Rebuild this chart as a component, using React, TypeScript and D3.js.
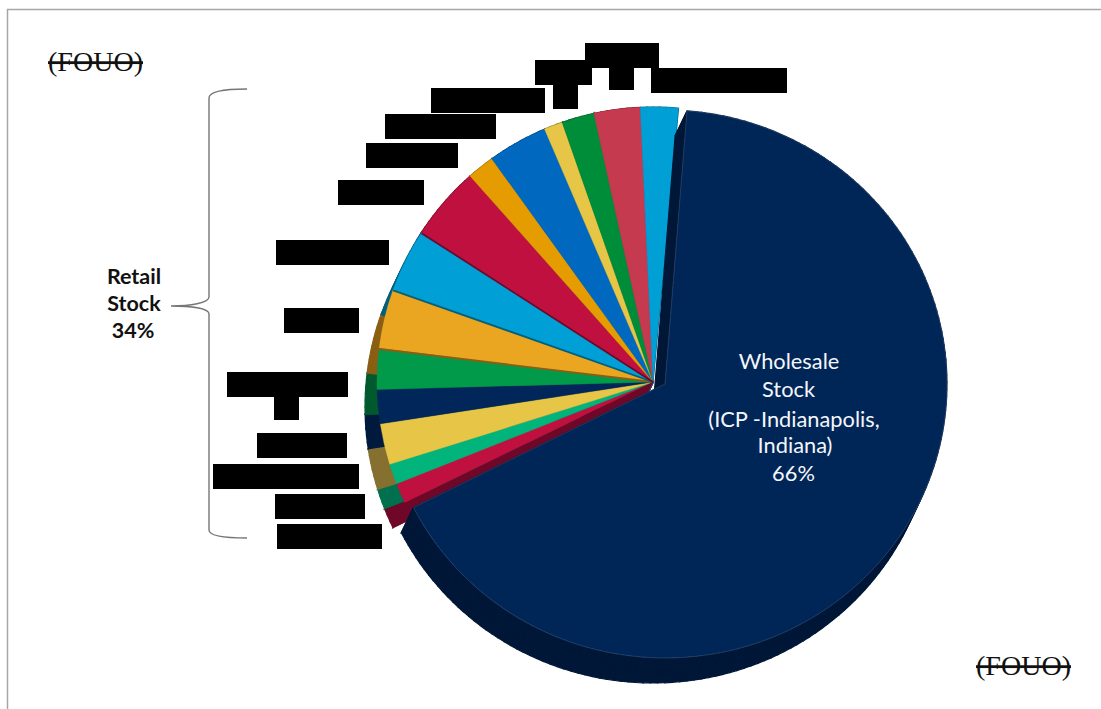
import React from "react";
import * as d3 from "d3";

// Share of total stock, clockwise from the wholesale slice.
const sliceNames = ["Wholesale", "Retail 1", "Retail 2", "Retail 3", "Retail 4", "Retail 5", "Retail 6", "Retail 7", "Retail 8", "Retail 9", "Retail 10", "Retail 11", "Retail 12", "Retail 13", "Retail 14"];
const sliceValues = [66.3, 1.2, 1.2, 2.4, 2.0, 2.4, 3.5, 3.7, 4.3, 1.6, 3.5, 1.1, 1.9, 2.7, 2.2];
const topColors = ["#002658", "#c0103f", "#00b47c", "#e6c547", "#00265a", "#009a4a", "#eaa521", "#009fd6", "#c0103f", "#e59c00", "#0069bf", "#e6c547", "#008d3a", "#c53a4e", "#009fd6"];
const wallColors = ["#001738", "#6f0828", "#00704f", "#857030", "#001a3e", "#005a2e", "#8a5f14", "#00607f", "#6f0828", "#8a5f00", "#003f73", "#857030", "#005523", "#77222f", "#00607f"];
const stripedSlices = ["Retail 6", "Retail 7", "Retail 8"];

const wholesaleLines = ["Wholesale", "Stock", "(ICP -Indianapolis,", "Indiana)", "66%"];
const retailLines = ["Retail", "Stock", "34%"];
const markings = ["(FOUO)", "(FOUO)"];

// Blacked-out slice captions: x, y, width, height.
const redactions: [number, number, number, number][] = [
  [585, 43, 74, 25], [535, 60, 57, 25], [553, 85, 25, 24], [609, 68, 25, 22], [651, 68, 136, 25],
  [431, 88, 114, 25], [385, 114, 111, 25], [366, 143, 92, 25], [338, 180, 86, 25], [276, 240, 113, 25],
  [284, 308, 75, 25], [227, 372, 121, 25], [274, 397, 25, 23], [257, 433, 90, 25], [213, 464, 146, 25],
  [275, 494, 90, 25], [277, 524, 105, 25],
];

const W = 1101;
const H = 709;
const WALL = { x: -12, y: 25 };
const FAN = { cx: 653, cy: 382, rx: 276, ry: 275 };
const EXPLODED = { cx: 665, cy: 384, rx: 282, ry: 274 };
const deg = Math.PI / 180;
const FAN_TURN = 0.8 * deg;

type Geo = typeof FAN;

const outerPoint = (g: Geo, a: number): [number, number] => {
  const [x, y] = d3.pointRadial(a, 1);
  return [g.cx + x * g.rx, g.cy + y * g.ry];
};

// Outline of a slice as a polyline: apex, then the rim.
const outline = (g: Geo, a0: number, a1: number): [number, number][] => {
  const n = Math.max(2, Math.ceil((a1 - a0) / (1.5 * deg)));
  const rim = d3.range(n + 1).map((i) => outerPoint(g, a0 + ((a1 - a0) * i) / n));
  return [[g.cx, g.cy], ...rim, [g.cx, g.cy]];
};

const polyline = d3.line();
const unitArc = d3.arc().innerRadius(0).outerRadius(1);

const wallQuad = (q: [number, number], p: [number, number]) =>
  polyline([q, p, [p[0] + WALL.x, p[1] + WALL.y], [q[0] + WALL.x, q[1] + WALL.y]]) + "Z";

// Extruded side of a slice, one quad per outline segment.
function Wall({ g, a0, a1, fill }: { g: Geo; a0: number; a1: number; fill: string }) {
  const pts = outline(g, a0, a1);
  return (
    <g fill={fill} stroke={fill} strokeWidth={1.2}>
      {pts.slice(1).map((p, i) => (
        <path key={i} d={wallQuad(pts[i], p)} />
      ))}
    </g>
  );
}

function Top({ g, a0, a1, fill, rim }: { g: Geo; a0: number; a1: number; fill: string; rim?: boolean }) {
  return (
    <path
      d={unitArc({ startAngle: a0, endAngle: a1 } as any) as string}
      transform={`translate(${g.cx},${g.cy}) scale(${g.rx},${g.ry})`}
      fill={fill}
      stroke={rim ? "rgba(255,255,255,0.22)" : fill}
      strokeWidth={rim ? 0.6 : 0.4}
      vectorEffect="non-scaling-stroke"
    />
  );
}

// Curly bracket opening to the right, with its nose pointing left.
function bracePath() {
  const p = d3.path();
  p.moveTo(247, 89);
  p.bezierCurveTo(225, 89, 209, 91, 209, 98);
  p.lineTo(209, 297);
  p.bezierCurveTo(209, 303, 190, 306, 171, 306);
  p.bezierCurveTo(190, 306, 209, 308, 209, 314);
  p.lineTo(209, 530);
  p.bezierCurveTo(209, 536, 225, 538, 247, 538);
  return p.toString();
}

const UI_FONT = "Lato, 'Open Sans', sans-serif";
const MARK_FONT = "'Liberation Serif', serif";

export default function App() {
  const pie = d3.pie<number>().sort(null).startAngle(4.5 * deg).endAngle(364.5 * deg);
  const arcs = pie(sliceValues);
  const retail = arcs.slice(1).map((a) => ({ ...a, startAngle: a.startAngle + FAN_TURN, endAngle: a.endAngle + FAN_TURN }));
  const main = arcs[0];

  return (
    <svg width={W} height={H} viewBox={`0 0 ${W} ${H}`} style={{ position: "absolute", left: 0, top: 0, background: "#fff" }}>
      <path d={`M7.5,${H} V9.5 H${W}`} fill="none" stroke="#a6a6a6" strokeWidth={1.5} />

      {/* Retail slices: walls underneath, then the top faces and their edge shading */}
      {retail.map((a) => (
        <Wall key={a.index} g={FAN} a0={a.startAngle} a1={a.endAngle} fill={wallColors[a.index]} />
      ))}
      {retail.map((a) => (
        <Top key={a.index} g={FAN} a0={a.startAngle} a1={a.endAngle} fill={topColors[a.index]} />
      ))}
      {retail
        .filter((a) => stripedSlices.includes(sliceNames[a.index]))
        .map((a) => {
          const [x, y] = outerPoint(FAN, a.startAngle);
          return <line key={a.index} x1={FAN.cx} y1={FAN.cy} x2={x} y2={y + 1} stroke={wallColors[a.index]} strokeWidth={1.8} />;
        })}
      {/* Side of the first retail slice, seen along the wholesale slice's cut edge */}
      <path d={wallQuad([FAN.cx, FAN.cy], outerPoint(FAN, retail[0].startAngle))} fill={wallColors[1]} />

      {/* Wholesale slice sits in front, pulled slightly out of the pie */}
      <Wall g={EXPLODED} a0={main.startAngle} a1={main.endAngle} fill={wallColors[0]} />
      <Top g={EXPLODED} a0={main.startAngle} a1={main.endAngle} fill={topColors[0]} rim />

      <g fontFamily={UI_FONT} fontSize={21.8} fill="#f4f6fa" textAnchor="middle">
        {wholesaleLines.map((t, i) => (
          <text key={i} x={[789, 788.5, 794, 795, 793.5][i]} y={[369, 397, 427, 453, 481][i]}>{t}</text>
        ))}
      </g>

      <path d={bracePath()} fill="none" stroke="#767676" strokeWidth={1.4} />
      <g fontFamily={UI_FONT} fontSize={21.5} fontWeight={700} fill="#111" textAnchor="middle">
        {retailLines.map((t, i) => (
          <text key={i} x={[134, 134, 133][i]} y={284 + i * 27}>{t}</text>
        ))}
      </g>

      {redactions.map(([x, y, w, h], i) => (
        <rect key={i} x={x} y={y} width={w} height={h} fill="#000" />
      ))}

      <g fontFamily={MARK_FONT} fontSize={28} fill="#111" textDecoration="line-through">
        <text x={48} y={71} textLength={95} lengthAdjust="spacingAndGlyphs">{markings[0]}</text>
        <text x={976} y={675} textLength={95} lengthAdjust="spacingAndGlyphs">{markings[1]}</text>
      </g>
    </svg>
  );
}
